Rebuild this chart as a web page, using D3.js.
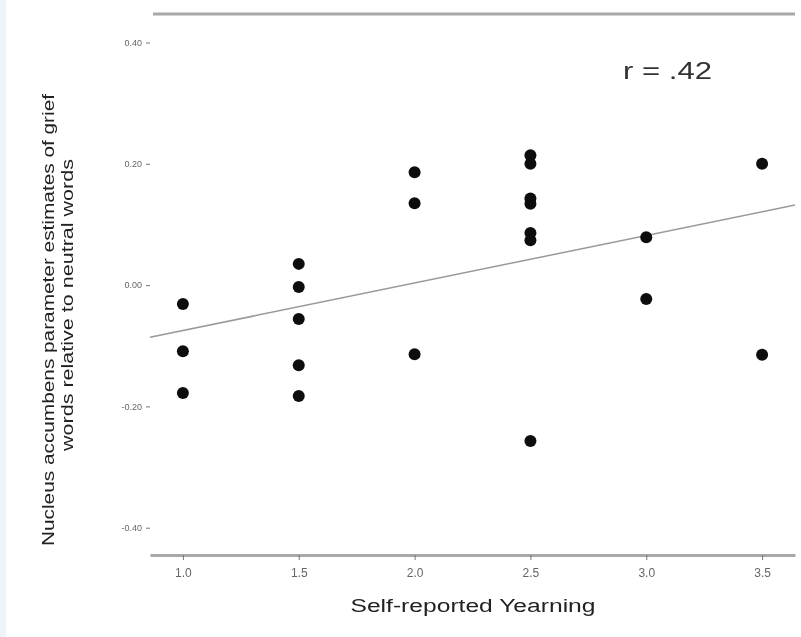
<!DOCTYPE html>
<html><head><meta charset="utf-8">
<script src="https://cdn.jsdelivr.net/npm/d3@7"></script>
<style>body{margin:0;background:#fff}svg{display:block}</style>
</head><body>
<script>
const xTicks = [1.0, 1.5, 2.0, 2.5, 3.0, 3.5];
const xTickLabels = ["1.0", "1.5", "2.0", "2.5", "3.0", "3.5"];
const yTicks = [0.4, 0.2, 0.0, -0.2, -0.4];
const yTickLabels = ["0.40", "0.20", "0.00", "-0.20", "-0.40"];
const yearning = [1.0,1.0,1.0, 1.5,1.5,1.5,1.5,1.5, 2.0,2.0,2.0, 2.5,2.5,2.5,2.5,2.5,2.5,2.5, 3.0,3.0, 3.5,3.5];
const accumbens = [-0.031,-0.109,-0.178, 0.035,-0.003,-0.056,-0.132,-0.183, 0.186,0.135,-0.114, 0.214,0.200,0.143,0.134,0.086,0.074,-0.257, 0.079,-0.023, 0.200,-0.115];
const fitX = [0.858, 3.642];
const fitY = [-0.086, 0.132];
const rLabel = "r = .42";

const W = 801, H = 637;
const svg = d3.select("body").append("svg").attr("width", W).attr("height", H);
const defs = svg.append("defs");
defs.append("filter").attr("id","blur").append("feGaussianBlur").attr("stdDeviation",0.6);
const g = svg.append("g").attr("filter","url(#blur)");

const x = d3.scaleLinear().domain([0.858, 3.642]).range([150, 795]);
const y = d3.scaleLinear().domain([-0.445, 0.447]).range([555, 14]);

g.append("rect").attr("x",0).attr("y",0).attr("width",6).attr("height",H).attr("fill","#eef4f8");

g.append("line").attr("x1",153).attr("x2",795).attr("y1",y(0.447)).attr("y2",y(0.447))
 .attr("stroke","#a8a8a8").attr("stroke-width",3);

const xAxis = g.append("g").attr("transform",`translate(0,${y(-0.445)})`)
 .call(d3.axisBottom(x).tickValues(xTicks).tickSize(5).tickSizeOuter(0).tickPadding(8)
 .tickFormat((d,i)=>xTickLabels[i]));
xAxis.select(".domain").attr("stroke","#a8a8a8").attr("stroke-width",3);
xAxis.selectAll(".tick line").attr("stroke","#777");
xAxis.selectAll("text").attr("font-family","Liberation Sans, Arial").attr("font-size",12).attr("fill","#666");

const yAxis = g.append("g").attr("transform",`translate(150,0)`)
 .call(d3.axisLeft(y).tickValues(yTicks).tickSize(4).tickSizeOuter(0).tickPadding(4)
 .tickFormat((d,i)=>yTickLabels[i]));
yAxis.select(".domain").remove();
yAxis.selectAll(".tick line").attr("stroke","#777");
yAxis.selectAll("text").attr("font-family","Liberation Sans, Arial").attr("font-size",9).attr("fill","#666");

g.append("line").attr("x1",x(fitX[0])).attr("y1",y(fitY[0])).attr("x2",x(fitX[1])).attr("y2",y(fitY[1]))
 .attr("stroke","#999").attr("stroke-width",1.5);

g.selectAll("circle.pt").data(yearning).join("circle").attr("class","pt")
 .attr("cx",d=>x(d)).attr("cy",(d,i)=>y(accumbens[i])).attr("r",6).attr("fill","#111");

g.append("text").attr("x",623).attr("y",79).text(rLabel)
 .attr("textLength",89).attr("lengthAdjust","spacingAndGlyphs")
 .attr("font-family","Liberation Sans, Arial").attr("font-size",23).attr("fill","#333");

g.append("text").attr("x",473).attr("y",612).attr("text-anchor","middle").text("Self-reported Yearning")
 .attr("textLength",245).attr("lengthAdjust","spacingAndGlyphs")
 .attr("font-family","Liberation Sans, Arial").attr("font-size",18).attr("fill","#222");

g.append("text").attr("transform","translate(54,320) rotate(-90)").attr("text-anchor","middle")
 .text("Nucleus accumbens parameter estimates of grief")
 .attr("textLength",452).attr("lengthAdjust","spacingAndGlyphs")
 .attr("font-family","Liberation Sans, Arial").attr("font-size",17).attr("fill","#222");
g.append("text").attr("transform","translate(73,305) rotate(-90)").attr("text-anchor","middle")
 .text("words relative to neutral words")
 .attr("textLength",292).attr("lengthAdjust","spacingAndGlyphs")
 .attr("font-family","Liberation Sans, Arial").attr("font-size",17).attr("fill","#222");
</script>
</body></html>
